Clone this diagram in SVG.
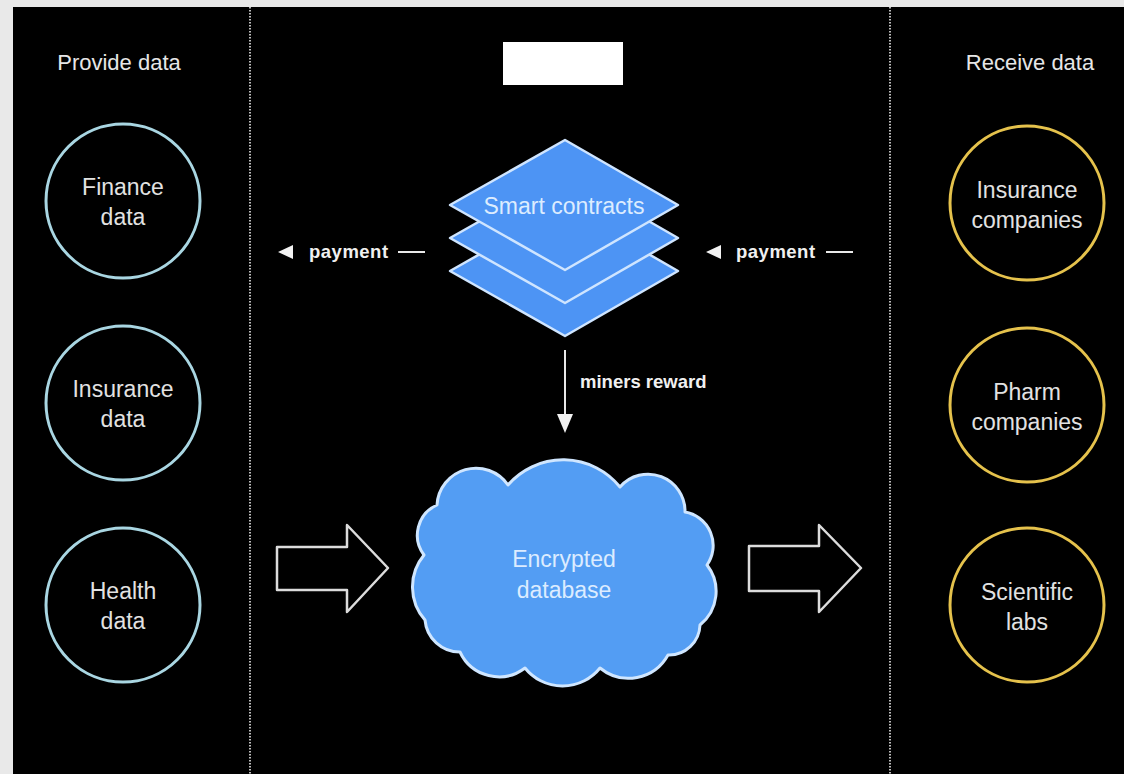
<svg xmlns="http://www.w3.org/2000/svg" width="1124" height="774" viewBox="0 0 1124 774">
  <style>
    .label { font-family: "Liberation Sans", Arial, Helvetica, sans-serif; font-size: 23px; fill: #e2e2e2; text-anchor: middle; }
    .head { font-family: "Liberation Sans", Arial, Helvetica, sans-serif; font-size: 22px; fill: #e6e6e6; text-anchor: middle; }
    .bold { font-family: "Liberation Sans", Arial, Helvetica, sans-serif; font-size: 18.5px; font-weight: bold; fill: #f0f0f0; }
    .blue-text { font-family: "Liberation Sans", Arial, Helvetica, sans-serif; font-size: 23px; fill: #dcecff; text-anchor: middle; }
    .provider { fill: none; stroke: #a9d6e2; stroke-width: 3; }
    .receiver { fill: none; stroke: #e5c24c; stroke-width: 3; }
    .divider { stroke: #bdbdbd; stroke-width: 2; stroke-dasharray: 1.5 1.5; }
    .layer { fill: #4d94f4; stroke: #cfe5ff; stroke-width: 2.5; stroke-linejoin: round; }
    .hollow { fill: none; stroke: #dcdcdc; stroke-width: 2.5; stroke-linejoin: round; }
    .line { stroke: #e8e8e8; stroke-width: 2; }
    .head-fill { fill: #f2f2f2; }
  </style>

  <!-- page frame -->
  <rect x="0" y="0" width="1124" height="774" fill="#e9e9e9"/>
  <rect x="13" y="7" width="1111" height="767" fill="#000000"/>

  <!-- column dividers -->
  <g id="dividers">
    <line class="divider" x1="250" y1="7" x2="250" y2="774"/>
    <line class="divider" x1="890" y1="7" x2="890" y2="774"/>
  </g>

  <!-- column headings -->
  <text class="head" x="119" y="70">Provide data</text>
  <text class="head" x="1030" y="70">Receive data</text>

  <!-- data providers -->
  <g id="finance-data">
    <circle class="provider" cx="123" cy="201" r="77"/>
    <text class="label" x="123" y="195">Finance</text>
    <text class="label" x="123" y="225">data</text>
  </g>
  <g id="insurance-data">
    <circle class="provider" cx="123" cy="403" r="77"/>
    <text class="label" x="123" y="397">Insurance</text>
    <text class="label" x="123" y="427">data</text>
  </g>
  <g id="health-data">
    <circle class="provider" cx="123" cy="605" r="77"/>
    <text class="label" x="123" y="599">Health</text>
    <text class="label" x="123" y="629">data</text>
  </g>

  <!-- data receivers -->
  <g id="insurance-companies">
    <circle class="receiver" cx="1027" cy="203" r="77"/>
    <text class="label" x="1027" y="198">Insurance</text>
    <text class="label" x="1027" y="228">companies</text>
  </g>
  <g id="pharm-companies">
    <circle class="receiver" cx="1027" cy="405" r="77"/>
    <text class="label" x="1027" y="400">Pharm</text>
    <text class="label" x="1027" y="430">companies</text>
  </g>
  <g id="scientific-labs">
    <circle class="receiver" cx="1027" cy="605" r="77"/>
    <text class="label" x="1027" y="600">Scientific</text>
    <text class="label" x="1027" y="630">labs</text>
  </g>

  <!-- blank title box -->
  <g id="title-box">
    <rect x="503" y="42" width="120" height="43" fill="#ffffff"/>
  </g>

  <!-- stacked smart-contract layers -->
  <g id="smart-contracts">
    <polygon class="layer" points="565,206 678,271 565,336 450,271"/>
    <polygon class="layer" points="565,173 678,238 565,303 450,238"/>
    <polygon class="layer" points="565,140 678,205 565,270 450,205"/>
    <text class="blue-text" x="564" y="214">Smart contracts</text>
  </g>

  <!-- encrypted database cloud -->
  <g id="encrypted-database">
    <path fill="#539df3" stroke="#cfe6ff" stroke-width="3" stroke-linejoin="round"
      d="M437,505
         A39,39 0 0 1 508,485
         A73,73 0 0 1 620,487
         A37,37 0 0 1 685,512
         A34,34 0 0 1 707,565
         A43,43 0 0 1 700,625
         A31,31 0 0 1 668,655
         A45,45 0 0 1 600,668
         A48,48 0 0 1 525,668
         A43,43 0 0 1 460,652
         A35,35 0 0 1 425,620
         A50,50 0 0 1 424,555
         A33,33 0 0 1 437,505 Z"/>
    <text class="blue-text" x="564" y="567">Encrypted</text>
    <text class="blue-text" x="564" y="598">database</text>
  </g>

  <!-- connectors -->
  <g id="connectors">
    <!-- payment to providers -->
    <polygon class="head-fill" points="278,252 293,245 293,259"/>
    <text class="bold" x="309" y="258" letter-spacing="0.5">payment</text>
    <line class="line" x1="398" y1="252" x2="425" y2="252"/>

    <!-- payment from receivers -->
    <polygon class="head-fill" points="706,252 721,245 721,259"/>
    <text class="bold" x="736" y="258" letter-spacing="0.5">payment</text>
    <line class="line" x1="826" y1="252" x2="853" y2="252"/>

    <!-- miners reward -->
    <line class="line" x1="565" y1="350" x2="565" y2="416"/>
    <polygon class="head-fill" points="557,414 573,414 565,433"/>
    <text class="bold" x="580" y="388">miners reward</text>

    <!-- data flow arrows -->
    <polygon class="hollow" points="277,547 347,547 347,525 388,568 347,612 347,590 277,590"/>
    <polygon class="hollow" points="749,546 819,546 819,525 861,568 819,612 819,591 749,591"/>
  </g>
</svg>
